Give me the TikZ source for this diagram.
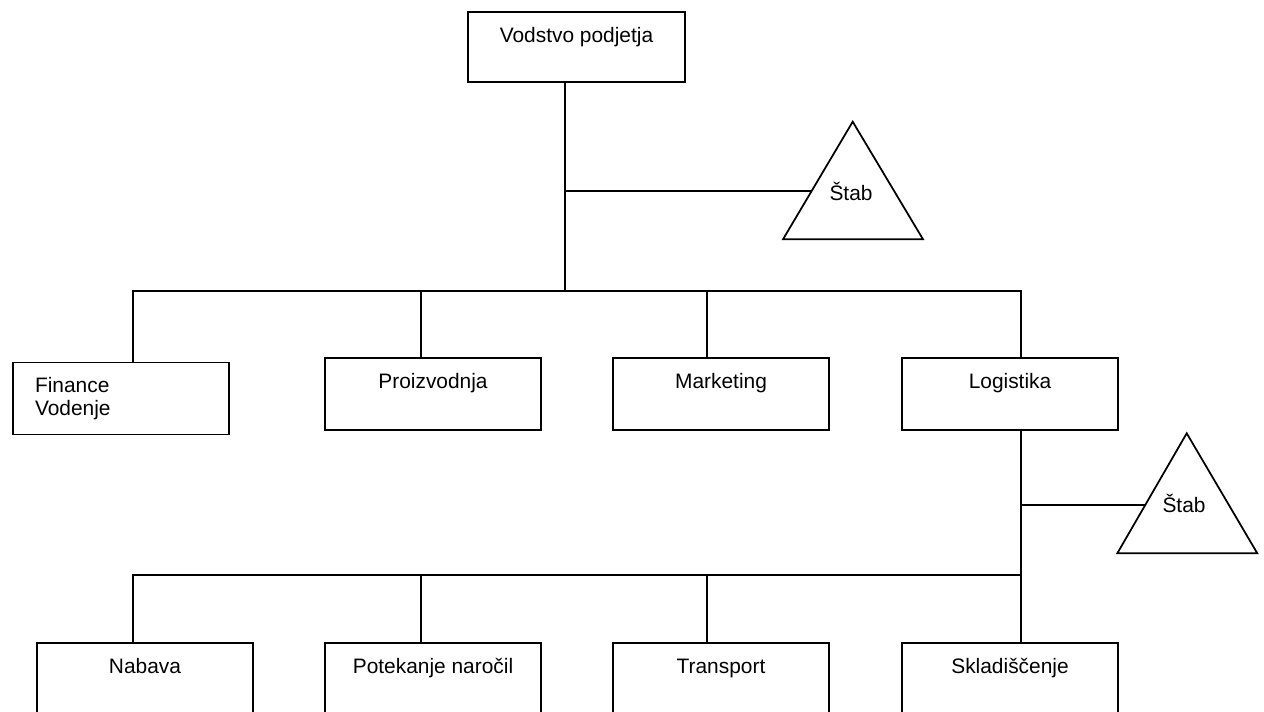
\documentclass[tikz,border=0pt]{standalone}
\usepackage{fontspec}
\setmainfont{Liberation Sans}
\usetikzlibrary{calc}

\begin{document}
\begin{tikzpicture}[x=0.02cm, y=-0.02cm, line width=1pt,
    unit/.style={draw, rectangle, inner sep=0pt, minimum width=4.32cm, text height=0.6cm, text depth=0.84cm, font=\fontsize{11.9}{13.1}\selectfont},
    stablabel/.style={anchor=base, inner sep=0pt, font=\fontsize{11.9}{13.1}\selectfont}]
\useasboundingbox (0,0) rectangle (1264,711);
\clip (0,0) rectangle (1264,711);

% vodstvo
\node[unit, minimum width=4.34cm, text depth=0.8cm] (boss) at (576.5,47) {Vodstvo podjetja};

% prvi nivo
\node[unit, align=left, text width=3.44cm, inner xsep=0.44cm] (fin) at (121,398.5) {Finance\\Vodenje};
\node[unit] (prod) at (433,394) {Proizvodnja};
\node[unit] (mkt) at (721,394) {Marketing};
\node[unit] (log) at (1010,394) {Logistika};

% drugi nivo
\node[unit] (nab) at (145,679) {Nabava};
\node[unit] (nar) at (433,679) {Potekanje naročil};
\node[unit] (trans) at (721,679) {Transport};
\node[unit] (skl) at (1010,679) {Skladiščenje};

% povezave
\coordinate (bus1) at (565,291);
\coordinate (bus2) at (1021,575);
\draw (boss.south -| bus1) -- (bus1);
\draw (fin.north -| 133,0) |- (bus1);
\draw (log.north -| 1021,0) |- (bus1);
\draw (prod.north -| 421,0) -- (421,291);
\draw (mkt.north -| 707,0) -- (707,291);

\draw (log.south -| bus2) -- (skl.north -| bus2);
\draw (nab.north -| 133,0) |- (bus2);
\draw (nar.north -| 421,0) -- (421,575);
\draw (trans.north -| 707,0) -- (707,575);

% stab
\draw (852.7,121.7) coordinate (t1a) -- (923,239.3) -- (783,239.3) coordinate (t1l) -- cycle;
\node[stablabel] (stab1) at (851,200) {Štab};
\coordinate (e1) at ($(t1a)!0.59!(t1l)$);
\draw (bus1 |- e1) -- (e1);

\draw (1186.7,433.3) coordinate (t2a) -- (1257.3,553.3) -- (1117.3,553.3) coordinate (t2l) -- cycle;
\node[stablabel] (stab2) at (1184,512.7) {Štab};
\coordinate (e2) at ($(t2a)!0.6!(t2l)$);
\draw (bus2 |- e2) -- (e2);
\end{tikzpicture}
\end{document}
